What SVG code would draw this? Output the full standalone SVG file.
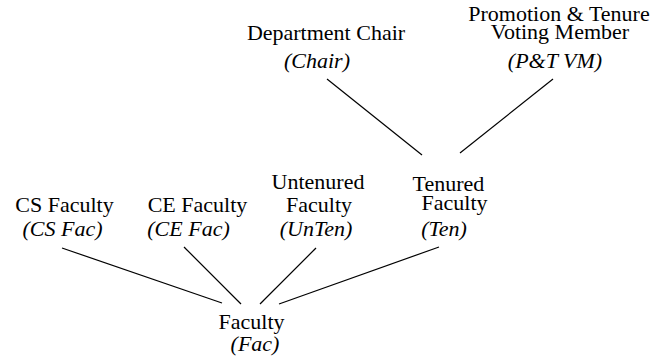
<svg xmlns="http://www.w3.org/2000/svg" width="658" height="357" viewBox="0 0 658 357">
<style>
text{font-size:22px;fill:#000;text-anchor:middle}
.i{font-style:italic}
line{stroke:#000;stroke-width:1.2}
</style>
<rect width="658" height="357" fill="#fff"/>
<g id="connectors">
<line x1="327" y1="79" x2="422" y2="155"/>
<line x1="553" y1="79" x2="460" y2="153"/>
<line x1="62" y1="248" x2="222" y2="303"/>
<line x1="184" y1="247" x2="241" y2="304"/>
<line x1="316" y1="248" x2="260" y2="304"/>
<line x1="439" y1="247" x2="279" y2="304"/>
</g>
<g font-family="Liberation Serif, Times New Roman, DejaVu Serif, serif">
<g id="chair"><text x="326" y="40">Department Chair</text><text class="i" x="317" y="68">(Chair)</text></g>
<g id="ptvm"><text x="559" y="21">Promotion &amp; Tenure</text><text x="560" y="39">Voting Member</text><text class="i" x="555" y="68">(P&amp;T VM)</text></g>
<g id="csfac"><text x="64.5" y="212">CS Faculty</text><text class="i" x="62.5" y="236">(CS Fac)</text></g>
<g id="cefac"><text x="197.5" y="212">CE Faculty</text><text class="i" x="188.5" y="236">(CE Fac)</text></g>
<g id="unten"><text x="318" y="189">Untenured</text><text x="319" y="212">Faculty</text><text class="i" x="316" y="236">(UnTen)</text></g>
<g id="ten"><text x="448.5" y="191">Tenured</text><text x="454.5" y="210">Faculty</text><text class="i" x="444" y="236">(Ten)</text></g>
<g id="fac"><text x="251.5" y="329">Faculty</text><text class="i" x="255" y="351">(Fac)</text></g>
</g>
</svg>
